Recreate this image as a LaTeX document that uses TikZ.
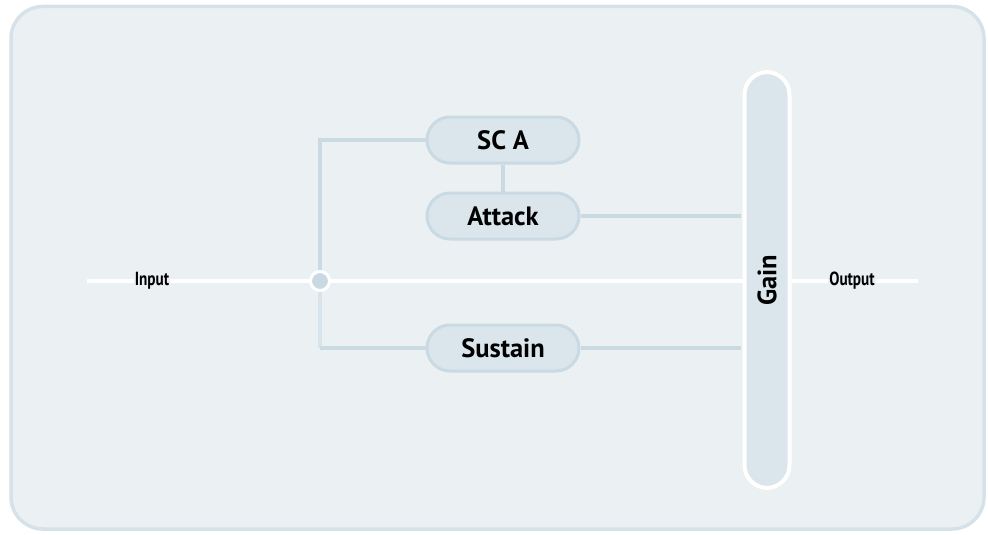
\documentclass[tikz,border=0pt]{standalone}
\usepackage{fontspec}
\setmainfont{PT Sans}
\newfontfamily\narrowfont[FakeStretch=0.8]{PT Sans}
\usetikzlibrary{positioning}

\definecolor{panelbg}{HTML}{EBF0F3}
\definecolor{panelrim}{HTML}{D5E2EA}
\definecolor{pillfill}{HTML}{DAE5EC}
\definecolor{pillrim}{HTML}{C9DAE3}
\definecolor{wirepale}{HTML}{D8E4EB}
\definecolor{dotfill}{HTML}{C9D9E2}

\tikzset{
  pill/.style={draw=pillrim, line width=3pt, fill=pillfill, rounded corners=23pt,
    minimum width=152pt, minimum height=46pt, inner sep=0pt,
    font=\fontsize{26.5}{30}\selectfont\bfseries},
  gainbar/.style={pill, draw=white, line width=4pt, minimum width=416pt, minimum height=45pt},
  wire/.style={draw=pillrim, line width=4pt},
  mainline/.style={draw=white, line width=4pt},
  iolabel/.style={fill=panelbg, inner sep=1pt, font=\narrowfont\fontsize{19}{22}\selectfont\bfseries},
}

\begin{document}
\begin{tikzpicture}[x=1pt, y=-1pt]
  \useasboundingbox (0,0) rectangle (988,535);
  \draw[draw=panelrim, fill=panelbg, line width=3.5pt, rounded corners=32pt] (11,6.5) rectangle (984,529);

  % blocks
  \node[pill] (sca) at (503,140) {SC A};
  \node[pill, below=27pt of sca] (attack) {Attack};
  \node[pill] (sustain) at (503,348) {Sustain};
  \node[gainbar, rotate=90] (gain) at (767,280) {Gain};
  \node[circle, fill=dotfill, draw=white, line width=3pt, minimum size=19pt, inner sep=0pt] (junc) at (320,281) {};

  \coordinate (inL) at (87,281);
  \coordinate (outR) at (918,281);

  % signal path
  \draw[mainline] (inL) -- (junc);
  \draw[mainline] (junc) -- (gain.north |- junc);
  \draw[mainline] (gain.south |- junc) -- (outR);
  \node[iolabel] (inlbl) at (152,281) {Input};
  \node[iolabel] (outlbl) at (852,281) {Output};

  % side chain
  \draw[wire] (junc) -- (junc |- sca) -- (sca);
  \draw[wire, draw=wirepale] (junc) -- (junc |- sustain);
  \draw[wire] (junc |- sustain) -- (sustain);
  \draw[wire] (sca) -- (attack);
  \draw[wire, shorten >=2pt] (attack) -- (attack -| gain.north);
  \draw[wire, shorten >=2pt] (sustain) -- (sustain -| gain.north);
\end{tikzpicture}
\end{document}
